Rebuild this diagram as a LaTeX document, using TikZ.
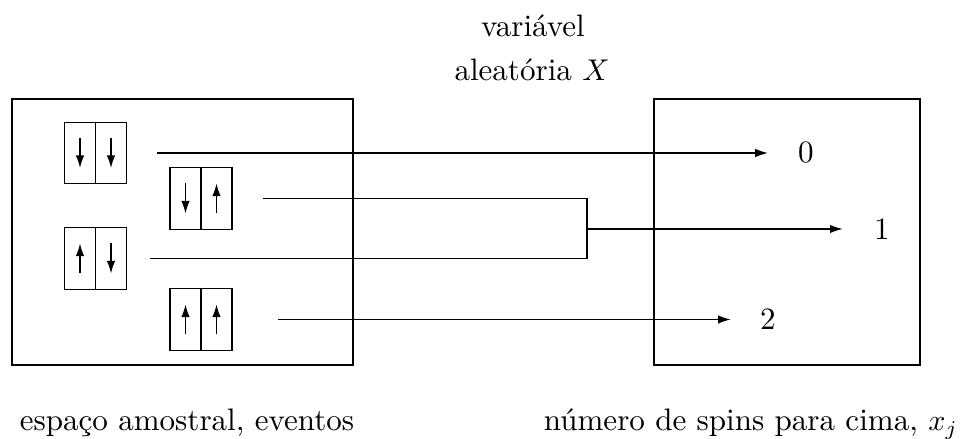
\documentclass[tikz,border=0pt]{standalone}
\usetikzlibrary{arrows.meta}
\begin{document}
\begin{tikzpicture}[x=0.3333pt,y=-0.3333pt,
  every node/.style={font=\fontsize{10.35pt}{12.4pt}\selectfont},
  tip/.style={-{Latex[length=4.2pt,width=2.8pt]}},
  bigbox/.style={draw, inner sep=0pt, minimum width=#1, minimum height=88.7pt},
  pair/.style={draw, inner sep=0pt, minimum width=20.67pt, minimum height=20.5pt},
  lbl/.style={anchor=base}]
\useasboundingbox (0,0) rectangle (964,439);

% sample space and value set
\node[bigbox=113.7pt] (omega) at (182.5,232) {};
\node[bigbox=88.7pt] (values) at (787,232) {};

% a pair of spins: name, centre, left and right direction (-15 down, 15 up)
\newcommand\spinpair[4]{%
  \node[pair] (#1) at (#2) {};
  \draw (#1.north) -- (#1.south);
  \draw[tip] ([shift={(-15.5,#3)}]#1.center) -- ([shift={(-15.5,-#3)}]#1.center);
  \draw[tip] ([shift={(15.5,#4)}]#1.center) -- ([shift={(15.5,-#4)}]#1.center);
}
\spinpair{dd}{95.5,153}{-15}{-15}
\spinpair{du}{201,198.5}{-15}{15}
\spinpair{ud}{95.5,258.5}{15}{-15}
\spinpair{uu}{201,319.5}{15}{15}

% values of X
\node (n0) at (806,153) {0};
\node (n1) at (882,229) {1};
\node (n2) at (768,319.5) {2};

% mapping
\coordinate (j) at (587,229);
\draw[tip, shorten >=6.6pt] ([shift={(30,0)}]dd.east) -- (dd.east -| n0.west);
\draw ([shift={(30,0)}]du.east) -- (du.east -| j) -- (ud.east -| j) -- ([shift={(22.7,0)}]ud.east);
\draw[tip, shorten >=7pt] (j) -- (j -| n1.west);
\draw[tip, shorten >=6.3pt] ([shift={(45,0)}]uu.east) -- (uu.east -| n2.west);

% labels
\node[lbl] (t1) at (533,36.5) {variável};
\node[lbl] (t2) at (532,81) {aleatória $X$};
\node[lbl] (t3) at (187,431) {espaço amostral, eventos};
\node[lbl] (t4) at (751,431) {número de spins para cima, $x_j$};
\end{tikzpicture}
\end{document}
